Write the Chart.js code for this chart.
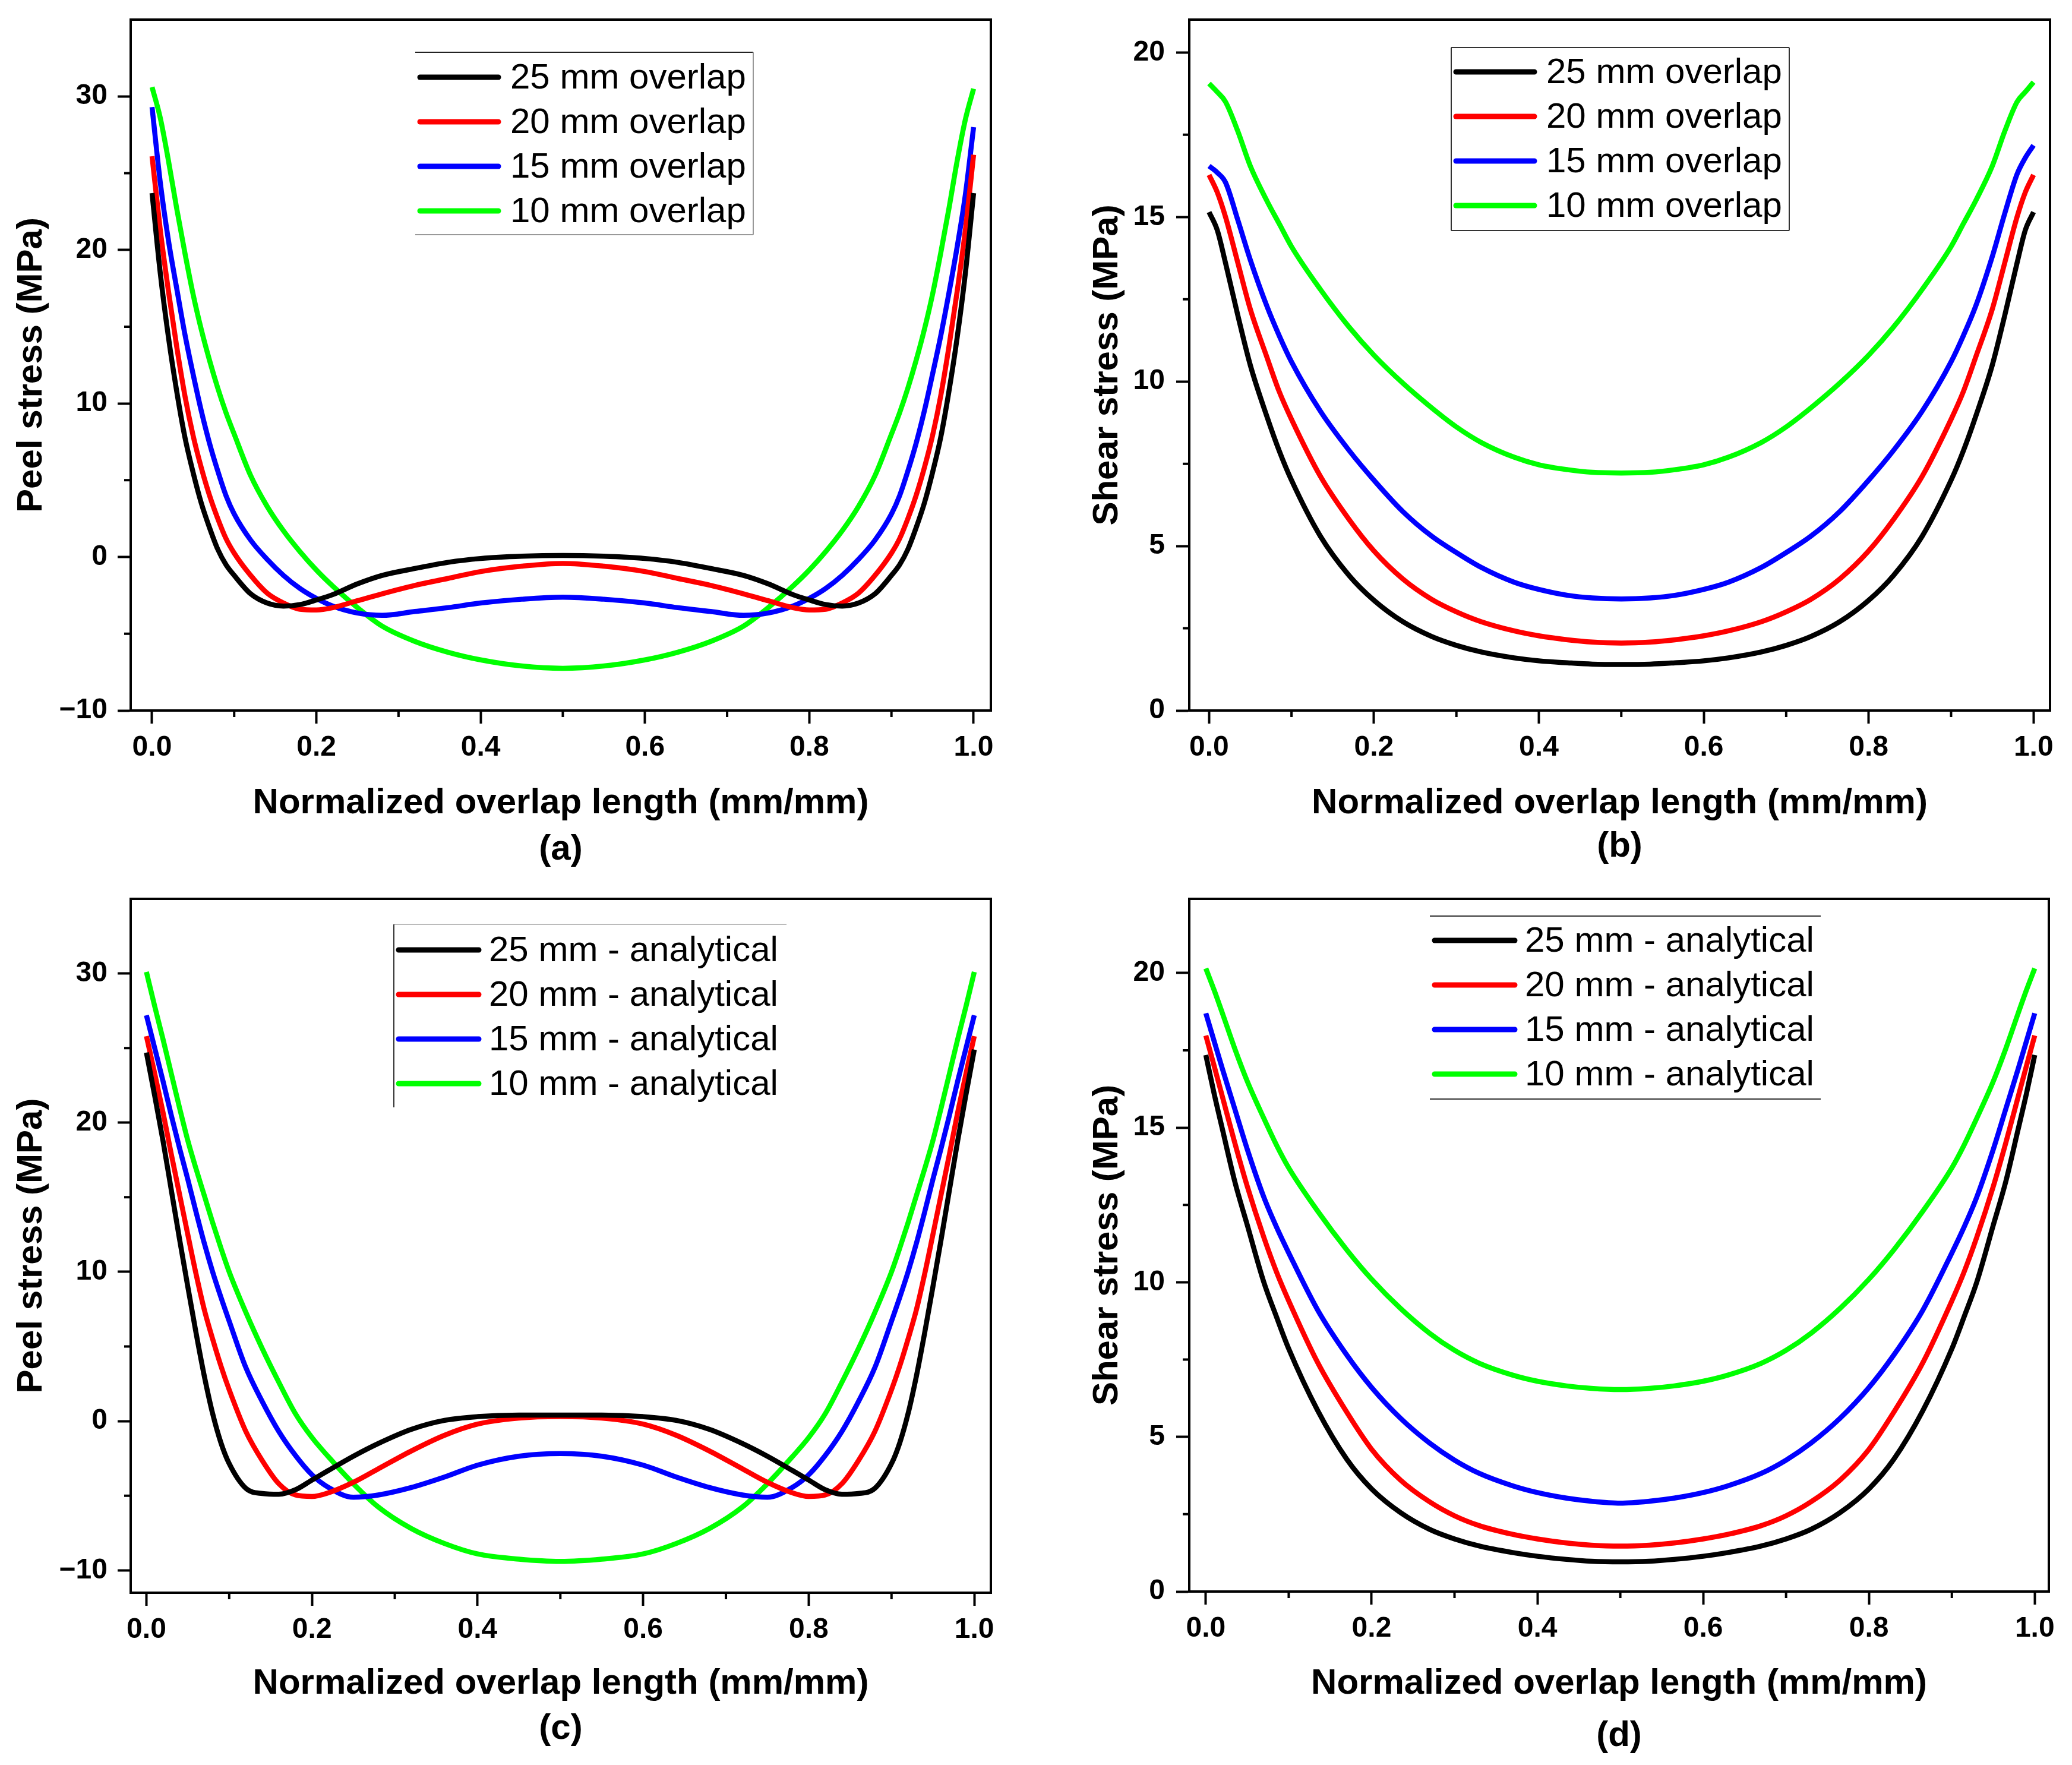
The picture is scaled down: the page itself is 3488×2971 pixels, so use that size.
<!DOCTYPE html>
<html lang="en">
<head>
<meta charset="UTF-8">
<title>Peel and shear stress along the normalized overlap</title>
<script src="https://cdn.jsdelivr.net/npm/chart.js"></script>
<style>
  html, body { margin: 0; padding: 0; background: #fff; overflow: hidden; }
  canvas { position: absolute; display: block; }
</style>
</head>
<body>
<canvas id="chartA" width="1744" height="1485" style="left:0px;top:0px"></canvas>
<canvas id="chartB" width="1744" height="1485" style="left:1744px;top:0px"></canvas>
<canvas id="chartC" width="1744" height="1486" style="left:0px;top:1485px"></canvas>
<canvas id="chartD" width="1744" height="1486" style="left:1744px;top:1485px"></canvas>

<script>
// ---------------- data ----------------

// x positions (normalized overlap length) used for the peel panels (a), (c)
const peelX = [0, 0.01, 0.02, 0.03, 0.04, 0.05, 0.06, 0.07, 0.08, 0.09, 0.10, 0.12, 0.14, 0.16, 0.18, 0.20, 0.22, 0.25, 0.28, 0.32, 0.36, 0.40, 0.45, 0.50,
               0.55, 0.60, 0.64, 0.68, 0.72, 0.75, 0.78, 0.80, 0.82, 0.84, 0.86, 0.88, 0.90, 0.91, 0.92, 0.93, 0.94, 0.95, 0.96, 0.97, 0.98, 0.99, 1.00];

// x positions used for the shear panels (b), (d)
const shearX = [0, 0.01, 0.02, 0.035, 0.05, 0.07, 0.085, 0.10, 0.135, 0.17, 0.20, 0.235, 0.27, 0.30, 0.33, 0.37, 0.40, 0.435, 0.465, 0.50,
                0.535, 0.565, 0.60, 0.63, 0.67, 0.70, 0.73, 0.765, 0.80, 0.83, 0.865, 0.90, 0.915, 0.93, 0.95, 0.965, 0.98, 0.99, 1.00];

// (a) peel stress, FE model
const peelFem25 = [23.7, 18.5, 14.3, 10.8, 7.8, 5.5, 3.5, 1.9, 0.5, -0.5, -1.2, -2.4, -3.0, -3.2, -3.1, -2.8, -2.45, -1.75, -1.2, -0.75, -0.35, -0.1, 0.05, 0.1,
                   0.05, -0.1, -0.35, -0.75, -1.2, -1.75, -2.45, -2.8, -3.1, -3.2, -3.0, -2.4, -1.2, -0.5, 0.5, 1.9, 3.5, 5.5, 7.8, 10.8, 14.3, 18.5, 23.7];
const peelFem20 = [26.1, 21.3, 17.3, 13.7, 10.5, 7.9, 5.8, 4.0, 2.5, 1.2, 0.25, -1.2, -2.35, -3.0, -3.4, -3.45, -3.3, -2.85, -2.4, -1.85, -1.4, -0.95, -0.6, -0.42,
                   -0.6, -0.95, -1.4, -1.85, -2.4, -2.85, -3.3, -3.45, -3.4, -3.0, -2.35, -1.2, 0.25, 1.2, 2.5, 4.0, 5.8, 7.9, 10.5, 13.7, 17.3, 21.3, 26.2];
const peelFem15 = [29.3, 24.4, 20.6, 17.5, 14.5, 11.9, 9.5, 7.4, 5.6, 4.0, 2.8, 1.1, -0.15, -1.2, -2.05, -2.7, -3.2, -3.65, -3.8, -3.55, -3.3, -3.0, -2.75, -2.62,
                   -2.75, -3.0, -3.3, -3.55, -3.8, -3.65, -3.2, -2.7, -2.05, -1.2, -0.15, 1.1, 2.8, 4.0, 5.6, 7.4, 9.5, 11.9, 14.4, 17.2, 20.2, 23.6, 28.0];
const peelFem10 = [30.6, 28.6, 25.8, 22.7, 19.8, 17.1, 14.8, 12.8, 11.0, 9.4, 8.0, 5.3, 3.3, 1.7, 0.35, -0.85, -1.9, -3.3, -4.5, -5.5, -6.2, -6.7, -7.1, -7.25,
                   -7.1, -6.7, -6.2, -5.5, -4.5, -3.3, -1.9, -0.85, 0.35, 1.7, 3.3, 5.3, 8.0, 9.4, 11.0, 12.8, 14.8, 17.1, 19.8, 22.7, 25.8, 28.5, 30.5];

// (b) shear stress, FE model
const shearFem25 = [15.15, 14.6, 13.6, 12.0, 10.5, 8.95, 7.9, 7.0, 5.3, 4.1, 3.35, 2.7, 2.25, 1.98, 1.78, 1.6, 1.51, 1.45, 1.41, 1.40,
                    1.41, 1.45, 1.51, 1.6, 1.78, 1.98, 2.25, 2.7, 3.35, 4.1, 5.3, 7.0, 7.9, 8.95, 10.5, 12.0, 13.6, 14.6, 15.15];
const shearFem20 = [16.28, 15.75, 15.0, 13.6, 12.2, 10.75, 9.7, 8.85, 7.12, 5.8, 4.85, 4.0, 3.38, 3.0, 2.7, 2.42, 2.27, 2.15, 2.08, 2.05,
                    2.08, 2.15, 2.27, 2.42, 2.7, 3.0, 3.38, 4.0, 4.85, 5.8, 7.12, 8.85, 9.7, 10.75, 12.2, 13.6, 15.0, 15.75, 16.28];
const shearFem15 = [16.55, 16.35, 16.05, 14.9, 13.7, 12.3, 11.4, 10.6, 9.1, 7.9, 7.0, 6.05, 5.3, 4.8, 4.35, 3.9, 3.68, 3.5, 3.42, 3.39,
                    3.42, 3.5, 3.68, 3.9, 4.35, 4.8, 5.3, 6.05, 7.0, 7.9, 9.1, 10.6, 11.4, 12.3, 13.8, 15.1, 16.3, 16.8, 17.18];
const shearFem10 = [19.06, 18.8, 18.5, 17.6, 16.55, 15.5, 14.8, 14.1, 12.8, 11.65, 10.8, 9.95, 9.2, 8.62, 8.15, 7.7, 7.47, 7.32, 7.24, 7.22,
                    7.24, 7.32, 7.47, 7.7, 8.15, 8.62, 9.2, 9.95, 10.8, 11.65, 12.8, 14.1, 14.8, 15.5, 16.55, 17.6, 18.5, 18.8, 19.1];

// (c) peel stress, analytical
const peelAna25 = [24.7, 21.8, 18.8, 15.5, 12.2, 9.0, 5.9, 3.0, 0.5, -1.45, -2.85, -4.5, -4.85, -4.9, -4.6, -3.95, -3.3, -2.35, -1.5, -0.55, 0.05, 0.3, 0.4, 0.4,
                   0.4, 0.3, 0.05, -0.55, -1.5, -2.35, -3.3, -3.95, -4.6, -4.9, -4.85, -4.5, -2.85, -1.45, 0.5, 3.0, 5.9, 9.0, 12.2, 15.5, 18.8, 21.9, 24.9];
const peelAna20 = [25.8, 23.3, 20.7, 17.9, 15.2, 12.5, 9.85, 7.45, 5.5, 3.7, 2.1, -0.68, -2.65, -4.2, -4.95, -5.05, -4.8, -4.1, -3.2, -2.0, -0.95, -0.2, 0.2, 0.3,
                   0.2, -0.2, -0.95, -2.0, -3.2, -4.1, -4.8, -5.05, -4.95, -4.2, -2.65, -0.68, 2.1, 3.7, 5.5, 7.45, 9.85, 12.5, 15.2, 17.9, 20.7, 23.3, 25.8];
const peelAna15 = [27.2, 25.0, 22.8, 20.5, 18.3, 16.2, 14.0, 11.9, 10.0, 8.3, 6.7, 3.6, 1.3, -0.7, -2.3, -3.6, -4.45, -5.1, -4.95, -4.45, -3.75, -2.95, -2.35, -2.17,
                   -2.35, -2.95, -3.75, -4.45, -4.95, -5.1, -4.45, -3.6, -2.3, -0.7, 1.3, 3.6, 6.7, 8.3, 10.0, 11.9, 14.0, 16.2, 18.3, 20.5, 22.8, 25.0, 27.2];
const peelAna10 = [30.1, 27.8, 25.6, 23.3, 21.0, 18.8, 16.9, 15.1, 13.3, 11.6, 10.0, 7.3, 4.85, 2.6, 0.5, -1.1, -2.4, -4.2, -5.75, -7.2, -8.2, -8.9, -9.25, -9.4,
                   -9.25, -8.9, -8.2, -7.2, -5.75, -4.2, -2.4, -1.1, 0.5, 2.6, 4.85, 7.3, 10.0, 11.6, 13.3, 15.1, 16.9, 18.8, 21.0, 23.3, 25.6, 27.8, 30.1];

// (d) shear stress, analytical
const shearAna25 = [17.35, 16.1, 14.95, 13.25, 11.85, 10.0, 8.9, 7.85, 5.85, 4.28, 3.32, 2.55, 2.01, 1.70, 1.47, 1.26, 1.14, 1.04, 0.98, 0.96,
                    0.98, 1.04, 1.14, 1.26, 1.47, 1.70, 2.01, 2.55, 3.32, 4.28, 5.85, 7.85, 8.9, 10.0, 11.85, 13.25, 14.95, 16.1, 17.35];
const shearAna20 = [17.98, 17.0, 16.0, 14.5, 13.1, 11.45, 10.35, 9.4, 7.4, 5.8, 4.6, 3.6, 2.9, 2.45, 2.13, 1.85, 1.7, 1.57, 1.5, 1.47,
                    1.5, 1.57, 1.7, 1.85, 2.13, 2.45, 2.9, 3.6, 4.6, 5.8, 7.4, 9.4, 10.35, 11.45, 13.1, 14.5, 16.0, 17.0, 17.98];
const shearAna15 = [18.7, 17.8, 16.9, 15.6, 14.3, 12.75, 11.8, 10.95, 9.1, 7.65, 6.6, 5.6, 4.8, 4.25, 3.82, 3.42, 3.2, 3.02, 2.92, 2.86,
                    2.92, 3.02, 3.2, 3.42, 3.82, 4.25, 4.8, 5.6, 6.6, 7.65, 9.1, 10.95, 11.8, 12.75, 14.3, 15.6, 16.9, 17.8, 18.7];
const shearAna10 = [20.15, 19.45, 18.7, 17.55, 16.5, 15.3, 14.45, 13.7, 12.3, 11.05, 10.1, 9.15, 8.35, 7.8, 7.38, 7.0, 6.8, 6.65, 6.57, 6.53,
                    6.57, 6.65, 6.8, 7.0, 7.38, 7.8, 8.35, 9.15, 10.1, 11.05, 12.3, 13.7, 14.45, 15.3, 16.5, 17.55, 18.7, 19.45, 20.15];

// legend texts
const femLabels = ['25 mm overlap', '20 mm overlap', '15 mm overlap', '10 mm overlap'];
const anaLabels = ['25 mm - analytical', '20 mm - analytical', '15 mm - analytical', '10 mm - analytical'];

// tick values
const xTicks = [0, 0.2, 0.4, 0.6, 0.8, 1.0];
const xMinorTicks = [0.1, 0.3, 0.5, 0.7, 0.9];
const peelTicks = [-10, 0, 10, 20, 30];
const peelMinorTicks = [-5, 5, 15, 25];
const shearTicks = [0, 5, 10, 15, 20];
const shearMinorTicks = [2.5, 7.5, 12.5, 17.5];

const xTitle = 'Normalized overlap length (mm/mm)';

// ---------------- drawing ----------------

const FONT = '"Liberation Sans", Arial, sans-serif';
const lineColors = ['#000000', '#ff0000', '#0000ff', '#00ff00'];
Chart.defaults.font.family = FONT;
Chart.defaults.color = '#000';

// minor ticks, closed frame and the in-plot legend
const panelDecor = {
    id: 'panelDecor',
    afterDraw(chart, args, opts) {
        const ctx = chart.ctx;
        const a = chart.chartArea;
        const sx = chart.scales.x, sy = chart.scales.y;
        ctx.save();
        ctx.strokeStyle = '#000';
        ctx.lineWidth = 4;
        ctx.beginPath();
        opts.xMinor.forEach(v => {
            const px = sx.getPixelForValue(v);
            ctx.moveTo(px, a.bottom);
            ctx.lineTo(px, a.bottom + 11);
        });
        opts.yMinor.forEach(v => {
            const py = sy.getPixelForValue(v);
            ctx.moveTo(a.left, py);
            ctx.lineTo(a.left - 11, py);
        });
        ctx.stroke();
        ctx.strokeRect(a.left, a.top, a.right - a.left, a.bottom - a.top);

        // legend
        const lg = opts.legend;
        const [l, t, r, b] = lg.box;
        ctx.lineWidth = 2;
        const side = (c, x1, y1, x2, y2) => {
            if (!c) return;
            ctx.strokeStyle = c;
            ctx.beginPath(); ctx.moveTo(x1, y1); ctx.lineTo(x2, y2); ctx.stroke();
        };
        side(lg.sides.top, l, t, r, t);
        side(lg.sides.right, r, t, r, b);
        side(lg.sides.bottom, l, b, r, b);
        side(lg.sides.left, l, t, l, b);

        ctx.font = '60px ' + FONT;
        ctx.textBaseline = 'middle';
        ctx.textAlign = 'left';
        chart.data.datasets.forEach((ds, i) => {
            const y = lg.row0 + i * lg.rowGap;
            ctx.strokeStyle = ds.borderColor;
            ctx.lineWidth = 9;
            ctx.lineCap = 'round';
            ctx.beginPath(); ctx.moveTo(lg.lineX[0], y); ctx.lineTo(lg.lineX[1], y); ctx.stroke();
            ctx.fillStyle = '#000';
            ctx.fillText(ds.label, lg.textX, y + 2);
        });
        ctx.restore();
    }
};

function minusLabel(v) {
    return v < 0 ? '\u2212' + Math.abs(v) : String(v);
}

function makePanel(p) {
    const canvas = document.getElementById(p.id);
    const W = canvas.width, H = canvas.height;
    const datasets = p.series.map((vals, i) => ({
        label: p.labels[i],
        data: p.xs.map((x, j) => ({ x: x, y: vals[j] })),
        borderColor: lineColors[i],
        borderWidth: 8.5,
        pointRadius: 0,
        cubicInterpolationMode: 'monotone',
        fill: false
    }));

    new Chart(canvas, {
        type: 'line',
        data: { datasets: datasets },
        plugins: [panelDecor],
        options: {
            responsive: false,
            animation: false,
            devicePixelRatio: 1,
            events: [],
            layout: { padding: { left: 0, top: p.area.t, right: W - p.area.r, bottom: 0 } },
            plugins: {
                legend: { display: false },
                tooltip: { enabled: false },
                panelDecor: { xMinor: xMinorTicks, yMinor: p.yMinor, legend: p.legend }
            },
            scales: {
                x: {
                    type: 'linear',
                    min: p.xMin,
                    max: p.xMax,
                    afterBuildTicks: s => { s.ticks = xTicks.map(v => ({ value: v })); },
                    afterFit: s => { s.height = H - p.area.b; s.paddingLeft = 0; s.paddingRight = 0; },
                    ticks: {
                        callback: v => v.toFixed(1),
                        font: { size: 48, weight: 'bold' },
                        padding: 12,
                        maxRotation: 0,
                        autoSkip: false
                    },
                    grid: { drawOnChartArea: false, tickLength: 22, tickWidth: 4, tickColor: '#000' },
                    border: { color: '#000', width: 4 },
                    title: {
                        display: true,
                        text: [xTitle, p.tag],
                        font: { size: 60, weight: 'bold', lineHeight: p.xTitleLH },
                        padding: { top: 0, bottom: p.xTitlePad }
                    }
                },
                y: {
                    type: 'linear',
                    min: p.yMin,
                    max: p.yMax,
                    afterBuildTicks: s => { s.ticks = p.yTicks.map(v => ({ value: v })); },
                    afterFit: s => { s.width = p.area.l; s.paddingTop = 0; s.paddingBottom = 0; },
                    ticks: {
                        callback: minusLabel,
                        font: { size: 48, weight: 'bold' },
                        padding: p.yTickPad
                    },
                    grid: { drawOnChartArea: false, tickLength: 22, tickWidth: 4, tickColor: '#000' },
                    border: { color: '#000', width: 4 },
                    title: {
                        display: true,
                        text: p.yTitle,
                        font: { size: 60, weight: 'bold', lineHeight: 1.2 },
                        padding: { top: p.yTitlePad, bottom: 0 }
                    }
                }
            }
        }
    });
}

makePanel({
    id: 'chartA', xs: peelX, series: [peelFem25, peelFem20, peelFem15, peelFem10], labels: femLabels,
    yTitle: 'Peel stress (MPa)', tag: '(a)',
    xMin: -0.026, xMax: 1.021, yMin: -10, yMax: 35, yTicks: peelTicks, yMinor: peelMinorTicks,
    area: { l: 220, t: 33, r: 1668, b: 1196 },
    yTickPad: 17, yTitlePad: 17, xTitleLH: 1.3, xTitlePad: 16,
    legend: { box: [699, 88, 1268, 395], sides: { top: '#222', right: '#999', bottom: '#999' },
              row0: 130, rowGap: 75, lineX: [707, 839], textX: 859 }
});

makePanel({
    id: 'chartB', xs: shearX, series: [shearFem25, shearFem20, shearFem15, shearFem10], labels: femLabels,
    yTitle: 'Shear stress (MPa)', tag: '(b)',
    xMin: -0.024, xMax: 1.020, yMin: 0, yMax: 21, yTicks: shearTicks, yMinor: shearMinorTicks,
    area: { l: 258, t: 33, r: 1707, b: 1196 },
    yTickPad: 19, yTitlePad: 84, xTitleLH: 1.22, xTitlePad: 23,
    legend: { box: [699, 80, 1268, 388], sides: { top: '#333', right: '#333', bottom: '#333', left: '#333' },
              row0: 121, rowGap: 75, lineX: [707, 839], textX: 859 }
});

makePanel({
    id: 'chartC', xs: peelX, series: [peelAna25, peelAna20, peelAna15, peelAna10], labels: anaLabels,
    yTitle: 'Peel stress (MPa)', tag: '(c)',
    xMin: -0.019, xMax: 1.020, yMin: -11.5, yMax: 35, yTicks: peelTicks, yMinor: peelMinorTicks,
    area: { l: 220, t: 28, r: 1668, b: 1196 },
    yTickPad: 17, yTitlePad: 17, xTitleLH: 1.27, xTitlePad: 22,
    legend: { box: [663, 71, 1324, 379], sides: { top: '#bbb', left: '#333' },
              row0: 114, rowGap: 75, lineX: [671, 806], textX: 823 }
});

makePanel({
    id: 'chartD', xs: shearX, series: [shearAna25, shearAna20, shearAna15, shearAna10], labels: anaLabels,
    yTitle: 'Shear stress (MPa)', tag: '(d)',
    xMin: -0.02, xMax: 1.017, yMin: 0, yMax: 22.4, yTicks: shearTicks, yMinor: shearMinorTicks,
    area: { l: 258, t: 28, r: 1705, b: 1194 },
    yTickPad: 19, yTitlePad: 84, xTitleLH: 1.47, xTitlePad: 4,
    legend: { box: [663, 57, 1321, 365], sides: { top: '#333', bottom: '#333' },
              row0: 98, rowGap: 75, lineX: [671, 806], textX: 823 }
});
</script>
</body>
</html>
